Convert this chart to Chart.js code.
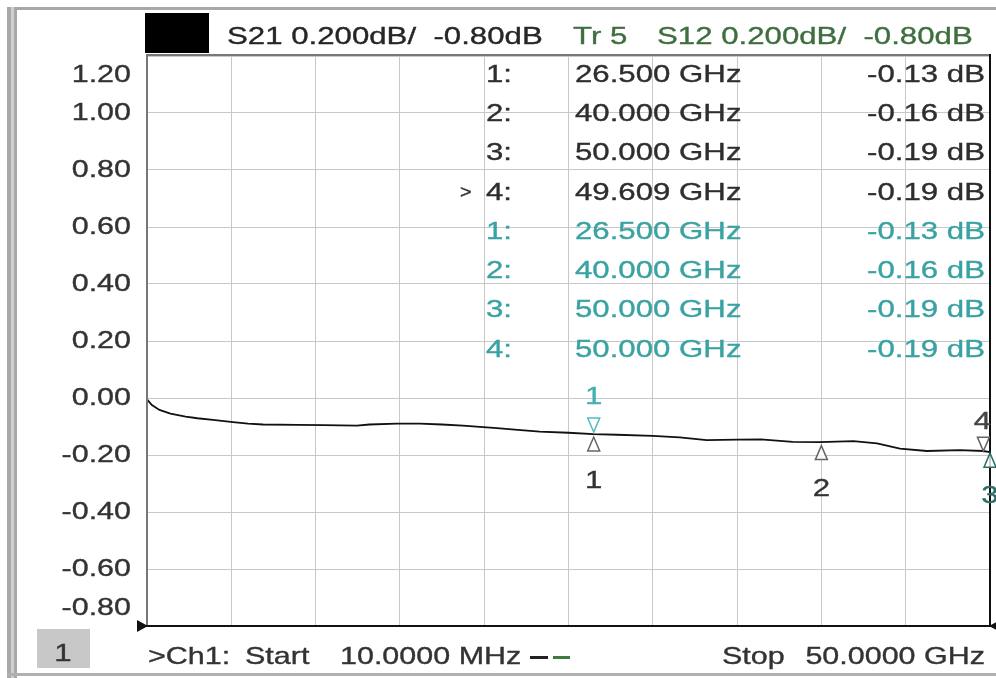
<!DOCTYPE html>
<html>
<head>
<meta charset="utf-8">
<script src="https://cdn.jsdelivr.net/npm/chart.js@4/dist/chart.umd.min.js"></script>
<style>
html,body{margin:0;padding:0;background:#fff;}
#wrap{width:996px;height:678px;position:relative;}
</style>
</head>
<body>
<div id="wrap"><canvas id="c" width="996" height="678"></canvas></div>
<script>
// ---- data ----
const startGHz = 0.01;
const stopGHz = 50;
const freqGHz = [0.01, 0.3, 0.75, 1.4, 2.3, 3.0, 3.92, 5.11, 6.0, 6.89, 8.9, 10.5, 12.46, 13.2, 14.83, 16.2, 17.5, 18.74, 20.76, 22.0, 23.3, 25.0, 26.5, 27.88, 30.0, 31.6, 33.2, 35.0, 36.4, 38.3, 39.9, 41.9, 43.3, 44.66, 46.26, 48.2, 49.6, 50.0];
const s21dB   = [-0.005, -0.025, -0.042, -0.055, -0.065, -0.071, -0.077, -0.085, -0.09, -0.093, -0.094, -0.095, -0.097, -0.093, -0.09, -0.09, -0.093, -0.097, -0.106, -0.112, -0.118, -0.122, -0.127, -0.129, -0.133, -0.138, -0.148, -0.146, -0.145, -0.154, -0.155, -0.151, -0.159, -0.178, -0.186, -0.183, -0.186, -0.19];
const yTickValues = [1.2, 1.0, 0.8, 0.6, 0.4, 0.2, 0.0, -0.2, -0.4, -0.6, -0.8];
const yTickLabels = ["1.20", "1.00", "0.80", "0.60", "0.40", "0.20", "0.00", "-0.20", "-0.40", "-0.60", "-0.80"];
const markerNums   = [1, 2, 3, 4];
const s21MarkerGHz = [26.5, 40.0, 50.0, 49.609];
const s21MarkerDb  = [-0.13, -0.16, -0.19, -0.19];
const s12MarkerGHz = [26.5, 40.0, 50.0, 50.0];
const s12MarkerDb  = [-0.13, -0.16, -0.19, -0.19];
const headerS21 = "S21 0.200dB/  -0.80dB";
const headerTr  = "Tr 5";
const headerS12 = "S12 0.200dB/  -0.80dB";
const footerCh = ">Ch1:";
const footerStart = "Start";
const footerStartVal = "10.0000 MHz";
const footerStop = "Stop";
const footerStopVal = "50.0000 GHz";

const FONT = '"Liberation Sans", Arial, sans-serif';
const SX = 1.3;
function txt(ctx, s, x, y, align, color, size, sx) {
  size = size || 24; sx = sx || SX;
  ctx.save();
  ctx.font = size + 'px ' + FONT;
  ctx.fillStyle = color;
  ctx.strokeStyle = color;
  ctx.lineWidth = 0.35;
  ctx.textBaseline = 'middle';
  ctx.textAlign = 'left';
  const w = ctx.measureText(s).width * sx;
  const x0 = align === 'right' ? x - w : (align === 'center' ? x - w / 2 : x);
  ctx.translate(x0, y);
  ctx.scale(sx, 1);
  ctx.fillText(s, 0, 0);
  ctx.strokeText(s, 0, 0);
  ctx.restore();
}
function triUp(ctx, x, y, color) { // apex at (x,y), base below
  ctx.save(); ctx.beginPath();
  ctx.moveTo(x, y); ctx.lineTo(x - 6, y + 14); ctx.lineTo(x + 6, y + 14); ctx.closePath();
  ctx.fillStyle = 'rgba(255,255,255,0.8)'; ctx.fill();
  ctx.strokeStyle = color; ctx.lineWidth = 1.5; ctx.stroke(); ctx.restore();
}
function triDown(ctx, x, y, color) { // apex at (x,y), base above
  ctx.save(); ctx.beginPath();
  ctx.moveTo(x, y); ctx.lineTo(x - 6, y - 14); ctx.lineTo(x + 6, y - 14); ctx.closePath();
  ctx.fillStyle = 'rgba(255,255,255,0.8)'; ctx.fill();
  ctx.strokeStyle = color; ctx.lineWidth = 1.5; ctx.stroke(); ctx.restore();
}

const bgPlugin = {
  id: 'bg',
  beforeDraw(chart) {
    const ctx = chart.ctx;
    ctx.save();
    ctx.fillStyle = '#fff'; ctx.fillRect(0, 0, chart.width, chart.height);
    // window frame
    ctx.fillStyle = '#a8a8a8';
    ctx.fillRect(7, 7, 989, 3);
    ctx.fillRect(7, 7, 4, 671);
    ctx.fillRect(14, 7, 3, 671);
    ctx.fillStyle = '#cfcfcf';
    ctx.fillRect(11, 7, 3, 671);
    ctx.fillStyle = '#b0b0b0';
    ctx.fillRect(7, 673, 989, 3);
    ctx.restore();
  }
};

const overlayPlugin = {
  id: 'overlay',
  afterDraw(chart) {
    const ctx = chart.ctx;
    const a = chart.chartArea;
    const xs = chart.scales.x, ys = chart.scales.y;
    ctx.save();
    // plot borders
    ctx.fillStyle = '#777'; ctx.fillRect(a.left - 1, a.top - 2, a.right - a.left + 2, 2);
    ctx.fillStyle = '#777'; ctx.fillRect(a.left - 1, a.top - 2, 2, a.bottom - a.top + 2);
    ctx.fillStyle = '#111'; ctx.fillRect(a.right - 1, a.top - 2, 2, a.bottom - a.top + 3);
    ctx.fillStyle = '#111'; ctx.fillRect(a.left - 1, a.bottom - 1, a.right - a.left + 2, 2);
    // reference arrows
    ctx.beginPath(); ctx.moveTo(a.left + 1, a.bottom); ctx.lineTo(a.left - 10, a.bottom - 6); ctx.lineTo(a.left - 10, a.bottom + 6); ctx.closePath(); ctx.fill();
    ctx.beginPath(); ctx.moveTo(a.right - 1, a.bottom); ctx.lineTo(a.right + 10, a.bottom - 6); ctx.lineTo(a.right + 10, a.bottom + 6); ctx.closePath(); ctx.fill();
    ctx.restore();

    // y tick labels
    yTickValues.forEach((v, i) => {
      let py = ys.getPixelForValue(v);
      py = Math.max(a.top + 19, Math.min(a.bottom - 18, py));
      txt(ctx, yTickLabels[i], 131, py, 'right', '#333', 24, 1.27);
    });

    // header
    ctx.fillStyle = '#000'; ctx.fillRect(145, 13, 64, 40);
    txt(ctx, headerS21, 227, 37, 'left', '#262626');
    txt(ctx, headerTr, 573, 37, 'left', '#3f6e3f');
    txt(ctx, headerS12, 657, 37, 'left', '#3f6e3f');

    // marker table
    const rowY0 = 75, rowDy = 39.3;
    markerNums.forEach((n, i) => {
      const y = rowY0 + i * rowDy;
      const col = '#2e2e2e';
      if (i === 3) txt(ctx, '>', 460, y, 'left', col, 18, 1.1);
      txt(ctx, n + ':', 486, y, 'left', col);
      txt(ctx, s21MarkerGHz[i].toFixed(3) + ' GHz', 575, y, 'left', col);
      txt(ctx, s21MarkerDb[i].toFixed(2) + ' dB', 985, y, 'right', col);
    });
    markerNums.forEach((n, i) => {
      const y = rowY0 + (i + 4) * rowDy;
      const col = '#3aa2a2';
      txt(ctx, n + ':', 486, y, 'left', col);
      txt(ctx, s12MarkerGHz[i].toFixed(3) + ' GHz', 575, y, 'left', col);
      txt(ctx, s12MarkerDb[i].toFixed(2) + ' dB', 985, y, 'right', col);
    });

    // markers on trace
    // S12 marker 1 (teal, above)
    {
      const px = xs.getPixelForValue(s12MarkerGHz[0]), py = ys.getPixelForValue(s12MarkerDb[0]) - 3;
      triDown(ctx, px, py, '#55bcbc');
      txt(ctx, String(markerNums[0]), px, py - 35, 'center', '#45b0b0');
    }
    // S21 markers 1,2 (below)
    [0, 1].forEach(i => {
      const px = xs.getPixelForValue(s21MarkerGHz[i]), py = ys.getPixelForValue(s21MarkerDb[i]) + 2;
      triUp(ctx, px, py, '#666');
      txt(ctx, String(markerNums[i]), px, py + 44, 'center', '#333');
    });
    // S21 marker 3 (below, right edge)
    {
      const px = xs.getPixelForValue(s21MarkerGHz[2]), py = ys.getPixelForValue(s21MarkerDb[2]) + 1;
      triUp(ctx, px, py, '#2d6d66');
      txt(ctx, String(markerNums[2]), px, py + 43, 'center', '#2d6d66');
    }
    // S21 marker 4 (active, above)
    {
      const px = xs.getPixelForValue(s21MarkerGHz[3]), py = ys.getPixelForValue(s21MarkerDb[3]) - 1;
      triDown(ctx, px, py, '#666');
      txt(ctx, String(markerNums[3]), px - 1, py - 29, 'center', '#444');
    }

    // footer
    ctx.fillStyle = '#c8c8c8'; ctx.fillRect(37, 629, 53, 39);
    txt(ctx, '1', 63, 654, 'center', '#333');
    const fy = 657;
    txt(ctx, footerCh, 148, fy, 'left', '#333', 24, 1.27);
    txt(ctx, footerStart, 245, fy, 'left', '#333', 24, 1.27);
    txt(ctx, footerStartVal, 340, fy, 'left', '#333', 24, 1.27);
    ctx.fillStyle = '#222'; ctx.fillRect(530, fy - 1, 18, 3);
    ctx.fillStyle = '#3f7a3f'; ctx.fillRect(553, fy - 1, 17, 3);
    txt(ctx, footerStop, 722, fy, 'left', '#333', 24, 1.27);
    txt(ctx, footerStopVal, 985, fy, 'right', '#333', 24, 1.27);
  }
};

new Chart(document.getElementById('c'), {
  type: 'line',
  data: {
    datasets: [{
      label: 'S21',
      data: freqGHz.map((f, i) => ({ x: f, y: s21dB[i] })),
      borderColor: '#111',
      borderWidth: 1.8,
      pointRadius: 0,
      tension: 0
    }]
  },
  options: {
    responsive: false,
    animation: false,
    layout: { padding: { left: 147, top: 56, right: 6, bottom: 52 } },
    plugins: { legend: { display: false }, tooltip: { enabled: false } },
    scales: {
      x: {
        type: 'linear', min: startGHz, max: stopGHz,
        afterBuildTicks: (s) => { s.ticks = Array.from({ length: 11 }, (_, i) => ({ value: startGHz + i * (stopGHz - startGHz) / 10 })); },
        ticks: { display: false },
        grid: { color: '#c8c8c8', lineWidth: 1, drawTicks: false },
        border: { display: false }
      },
      y: {
        type: 'linear', min: -0.8, max: 1.2,
        afterBuildTicks: (s) => { s.ticks = yTickValues.map(v => ({ value: v })); },
        ticks: { display: false },
        grid: { color: '#c8c8c8', lineWidth: 1, drawTicks: false },
        border: { display: false }
      }
    }
  },
  plugins: [bgPlugin, overlayPlugin]
});
</script>
</body>
</html>
